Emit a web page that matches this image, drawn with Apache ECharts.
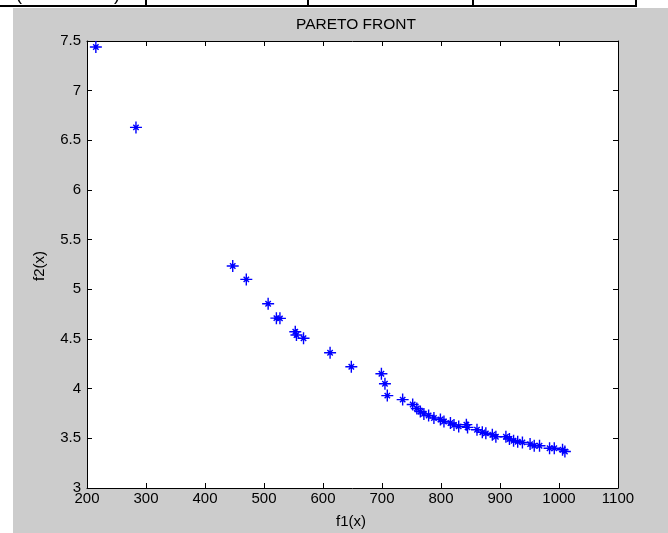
<!DOCTYPE html>
<html>
<head>
<meta charset="utf-8">
<script src="https://cdn.jsdelivr.net/npm/echarts@6/dist/echarts.min.js"></script>
<style>html,body{margin:0;padding:0;background:#fff}#c{width:668px;height:533px}</style>
</head>
<body>
<div id="c"></div>
<script>
// Data (f1(x), f2(x))
var f1 = [215, 283, 447, 470, 507, 521, 527, 553, 555, 567, 612, 648,
  699, 705, 709, 735, 752, 759, 765, 771, 779, 788, 799, 805, 816, 822, 830, 843, 845,
  861, 870, 876, 887, 893, 910, 916, 923, 930, 938, 951, 958, 967, 984, 992, 1006, 1010];
var f2 = [7.44, 6.63, 5.235, 5.10, 4.855, 4.71, 4.708, 4.573, 4.54, 4.507, 4.362, 4.22,
  4.15, 4.05, 3.93, 3.89, 3.84, 3.80, 3.77, 3.746, 3.73, 3.705, 3.69, 3.67, 3.654, 3.634, 3.62, 3.638, 3.61,
  3.587, 3.56, 3.55, 3.536, 3.516, 3.516, 3.493, 3.476, 3.466, 3.459, 3.442, 3.425, 3.425, 3.40, 3.40, 3.385, 3.367];
var xTicks = [200, 300, 400, 500, 600, 700, 800, 900, 1000, 1100];
var yTicks = [3, 3.5, 4, 4.5, 5, 5.5, 6, 6.5, 7, 7.5];
var titleText = 'PARETO FRONT';
var xName = 'f1(x)';
var yName = 'f2(x)';

var pts = f1.map(function (v, i) { return [v, f2[i]]; });
var FONT = '"Liberation Sans Narrow", "Liberation Sans", Arial, sans-serif';
var star = 'path://M5.3 0H6.7V12H5.3Z M0 5.3H12V6.7H0Z M2.8 3.8L3.8 2.8L9.2 8.2L8.2 9.2Z M9.2 3.8L3.8 9.2L2.8 8.2L8.2 2.8Z';
var fmt = function (v) { return String(v); };

var chart = echarts.init(document.getElementById('c'), null, {renderer: 'canvas'});
var axisCommon = {
  axisLine: {show: true, lineStyle: {color: '#000', width: 1}},
  axisTick: {show: true, inside: true, length: 5, lineStyle: {color: '#000'}},
  splitLine: {show: false}
};
chart.setOption({
  backgroundColor: '#fff',
  animation: false,
  title: {
    text: titleText, left: 351, top: 12, textAlign: 'center',
    textStyle: {fontFamily: FONT, fontSize: 15.5, fontWeight: 'normal', color: '#000'}
  },
  grid: {left: 87, right: 50, top: 41, bottom: 45, show: true, backgroundColor: '#fff', borderWidth: 0},
  graphic: [
    {type: 'rect', z: -10, shape: {x: 13, y: 8, width: 655, height: 525}, style: {fill: '#cccccc'}},
    {type: 'rect', shape: {x: 0, y: 5, width: 637, height: 2}, style: {fill: '#000'}},
    {type: 'rect', shape: {x: 145, y: 0, width: 2, height: 7}, style: {fill: '#000'}},
    {type: 'rect', shape: {x: 307, y: 0, width: 2, height: 7}, style: {fill: '#000'}},
    {type: 'rect', shape: {x: 472, y: 0, width: 2, height: 7}, style: {fill: '#000'}},
    {type: 'rect', shape: {x: 635, y: 0, width: 2, height: 7}, style: {fill: '#000'}},
    {type: 'text', left: 16, top: -14, style: {text: '(', font: '18px ' + FONT, fill: '#000'}},
    {type: 'text', left: 114, top: -14, style: {text: ')', font: '18px ' + FONT, fill: '#000'}},
    {type: 'text', x: 351, y: 522, style: {text: xName, font: '15px ' + FONT, fill: '#000', align: 'center', verticalAlign: 'middle'}},
    {type: 'text', x: 40, y: 266, rotation: Math.PI / 2, style: {text: yName, font: '15px ' + FONT, fill: '#000', align: 'center', verticalAlign: 'middle'}}
  ],
  xAxis: [
    Object.assign({type: 'value', min: xTicks[0], max: xTicks[xTicks.length - 1], interval: 100, position: 'bottom',
      axisLabel: {margin: 3, color: '#000', fontFamily: FONT, fontSize: 15, formatter: fmt}}, axisCommon),
    Object.assign({type: 'value', min: xTicks[0], max: xTicks[xTicks.length - 1], interval: 100, position: 'top',
      axisLabel: {show: false}}, axisCommon)
  ],
  yAxis: [
    Object.assign({type: 'value', min: yTicks[0], max: yTicks[yTicks.length - 1], interval: 0.5, position: 'left',
      axisLabel: {margin: 6, color: '#000', fontFamily: FONT, fontSize: 15, formatter: fmt}}, axisCommon),
    Object.assign({type: 'value', min: yTicks[0], max: yTicks[yTicks.length - 1], interval: 0.5, position: 'right',
      axisLabel: {show: false}}, axisCommon)
  ],
  series: [{
    type: 'scatter', xAxisIndex: 0, yAxisIndex: 0,
    data: pts, symbol: star, symbolSize: 12,
    itemStyle: {color: '#0000ff', opacity: 1}
  }]
});
</script>
</body>
</html>
